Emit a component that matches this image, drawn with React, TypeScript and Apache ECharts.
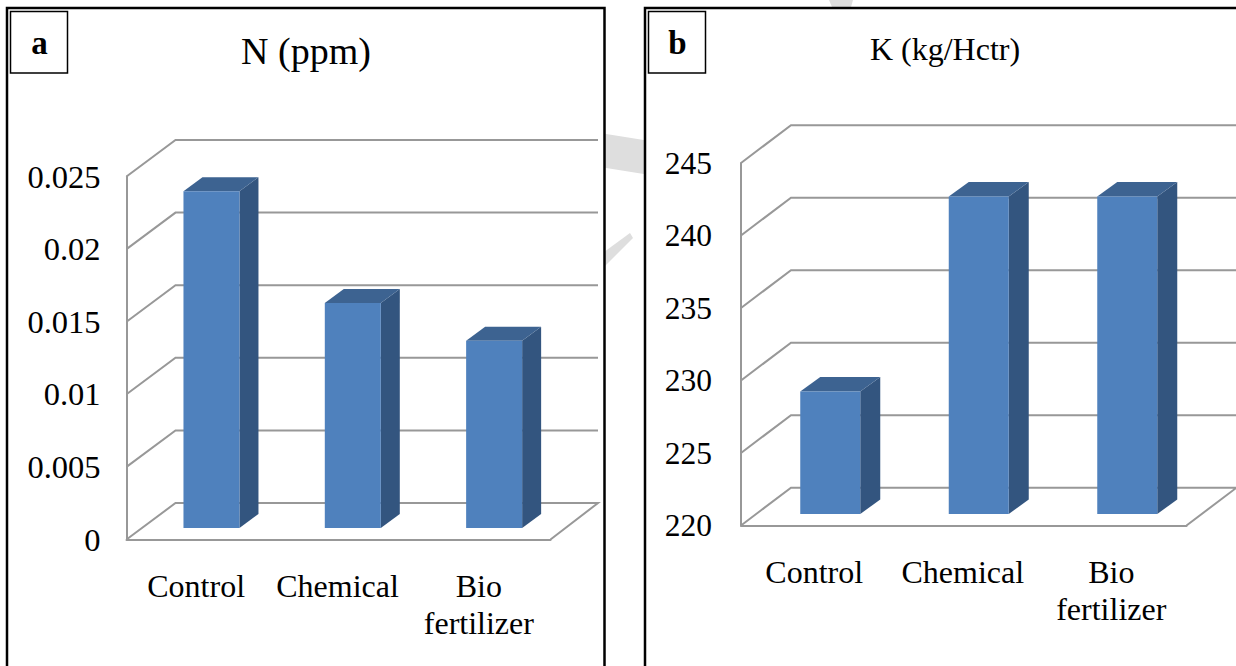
import React, { useEffect, useRef } from "react";
import * as echarts from "echarts";

const categories = ["Control", "Chemical", "Bio\nfertilizer"];
const nValues = [0.0232, 0.0155, 0.0129];
const kValues = [228.45, 241.9, 241.9];
const nTicks = [0, 0.005, 0.01, 0.015, 0.02, 0.025];
const kTicks = [220, 225, 230, 235, 240, 245];

const FONT = "Liberation Serif";
const GRID_COLOR = "#989898";
const FRONT = "#4f81bd";
const SIDE = "#33557f";
const TOP = "#3d6391";

function frameRenderer(dx: number, dy: number, dxRight: number) {
  return (params: any, api: any) => {
    const cs = params.coordSys;
    const y = api.coord([0, api.value(0)])[1];
    const x0 = cs.x;
    const x1 = cs.x + cs.width;
    return {
      type: "polyline",
      shape: { points: [[x0, y], [x0 + dx, y - dy], [x1 + dxRight, y - dy], ...(params.dataIndex === 0 ? [[x1, y]] : [])] },
      style: { stroke: GRID_COLOR, lineWidth: 2, fill: "none" },
    };
  };
}

function barRenderer(w: number, shiftX: number, shiftY: number, dx: number, dy: number, base: number) {
  return (_p: any, api: any) => {
    const top = api.coord([api.value(0), api.value(1)]);
    const bottom = api.coord([api.value(0), base]);
    const l = top[0] + shiftX - w / 2;
    const r = l + w;
    const t = top[1] - shiftY;
    const b = bottom[1] - shiftY;
    return {
      type: "group",
      children: [
        { type: "polygon", shape: { points: [[r, t], [r + dx, t - dy], [r + dx, b - dy], [r, b]] }, style: { fill: SIDE } },
        { type: "polygon", shape: { points: [[l, t], [l + dx, t - dy], [r + dx, t - dy], [r, t]] }, style: { fill: TOP } },
        { type: "rect", shape: { x: l, y: t, width: w, height: b - t }, style: { fill: FRONT } },
      ],
    };
  };
}

export default function App() {
  const ref = useRef<HTMLDivElement>(null);
  useEffect(() => {
    const chart = echarts.init(ref.current!, null, { renderer: "svg" });
    const axisLine = { show: true, lineStyle: { color: GRID_COLOR, width: 2 } };
    const catAxis = (gridIndex: number, margin: number) => ({
      type: "category" as const,
      gridIndex,
      data: categories,
      axisTick: { show: false },
      axisLine,
      axisLabel: { interval: 0, color: "#000", fontFamily: FONT, fontSize: 32, lineHeight: 37, margin, padding: [0, 2, 0, 0] },
    });
    const valAxis = (gridIndex: number, min: number, max: number, interval: number, margin: number, fontSize: number) => ({
      type: "value" as const,
      gridIndex,
      min,
      max,
      interval,
      axisTick: { show: false },
      splitLine: { show: false },
      axisLine,
      axisLabel: { color: "#000", fontFamily: FONT, fontSize, margin, padding: [6, 0, 0, 0] },
    });
    chart.setOption({
      animation: false,
      backgroundColor: "#fff",
      title: [
        { text: "N (ppm)", left: 301, top: 27, textAlign: "center", textStyle: { fontFamily: FONT, fontSize: 38, fontWeight: "normal", color: "#000" } },
        { text: "K (kg/Hctr)", left: 940, top: 28, textAlign: "center", textStyle: { fontFamily: FONT, fontSize: 32, fontWeight: "normal", color: "#000" } },
      ],
      grid: [
        { left: 126.5, top: 176.5, width: 424, height: 363, containLabel: false },
        { left: 741, top: 163, width: 445.5, height: 362.5, containLabel: false },
      ],
      xAxis: [catAxis(0, 28), catAxis(1, 28)],
      yAxis: [valAxis(0, 0, 0.025, 0.005, 26, 32.5), valAxis(1, 220, 245, 5, 29, 31.5)],
      graphic: [
        { type: "polygon", z: -10, shape: { points: [[600, 133], [650, 141], [650, 175], [600, 167]] }, style: { fill: "#dedede" } },
        { type: "polygon", z: -10, shape: { points: [[829, 0], [853, 0], [851, 7], [832, 7]] }, style: { fill: "#dedede" } },
        { type: "polygon", z: -10, shape: { points: [[600, 255], [630, 233], [633, 238], [600, 271]] }, style: { fill: "#dedede" } },
        { type: "rect", z: -9, shape: { x: 7, y: 8, width: 597.5, height: 700 }, style: { fill: "#fff", stroke: "#000", lineWidth: 2.5 } },
        { type: "rect", z: -9, shape: { x: 645, y: 8, width: 640, height: 700 }, style: { fill: "#fff", stroke: "#000", lineWidth: 2.5 } },
        { type: "rect", z: 5, shape: { x: 10.5, y: 11.5, width: 57, height: 61.5 }, style: { fill: "#fff", stroke: "#000", lineWidth: 1.5 } },
        { type: "rect", z: 5, shape: { x: 648.5, y: 11.5, width: 57, height: 61.5 }, style: { fill: "#fff", stroke: "#000", lineWidth: 1.5 } },
        { type: "text", z: 6, x: 39.5, y: 43, style: { text: "a", fontFamily: FONT, fontWeight: "bold", fontSize: 33, fill: "#000", align: "center", verticalAlign: "middle" } },
        { type: "text", z: 6, x: 677.5, y: 43, style: { text: "b", fontFamily: FONT, fontWeight: "bold", fontSize: 33, fill: "#000", align: "center", verticalAlign: "middle" } },
      ],
      series: [
        { type: "custom", xAxisIndex: 0, yAxisIndex: 0, clip: false, data: nTicks.map((v) => [v]), encode: { y: 0 }, renderItem: frameRenderer(49, 36.5, 47.5) },
        { type: "custom", xAxisIndex: 1, yAxisIndex: 1, clip: false, data: kTicks.map((v) => [v]), encode: { y: 0 }, renderItem: frameRenderer(50, 37.8, 50) },
        { type: "custom", xAxisIndex: 0, yAxisIndex: 0, clip: false, data: nValues.map((v, i) => [i, v]), encode: { x: 0, y: 1 }, renderItem: barRenderer(56, 14.3, 11.5, 19, 14, 0) },
        { type: "custom", xAxisIndex: 1, yAxisIndex: 1, clip: false, data: kValues.map((v, i) => [i, v]), encode: { x: 0, y: 1 }, renderItem: barRenderer(60, 15, 11.5, 20, 14.5, 220) },
      ],
    });
    return () => chart.dispose();
  }, []);
  return <div ref={ref} style={{ position: "fixed", left: 0, top: 0, width: 1236, height: 666 }} />;
}
